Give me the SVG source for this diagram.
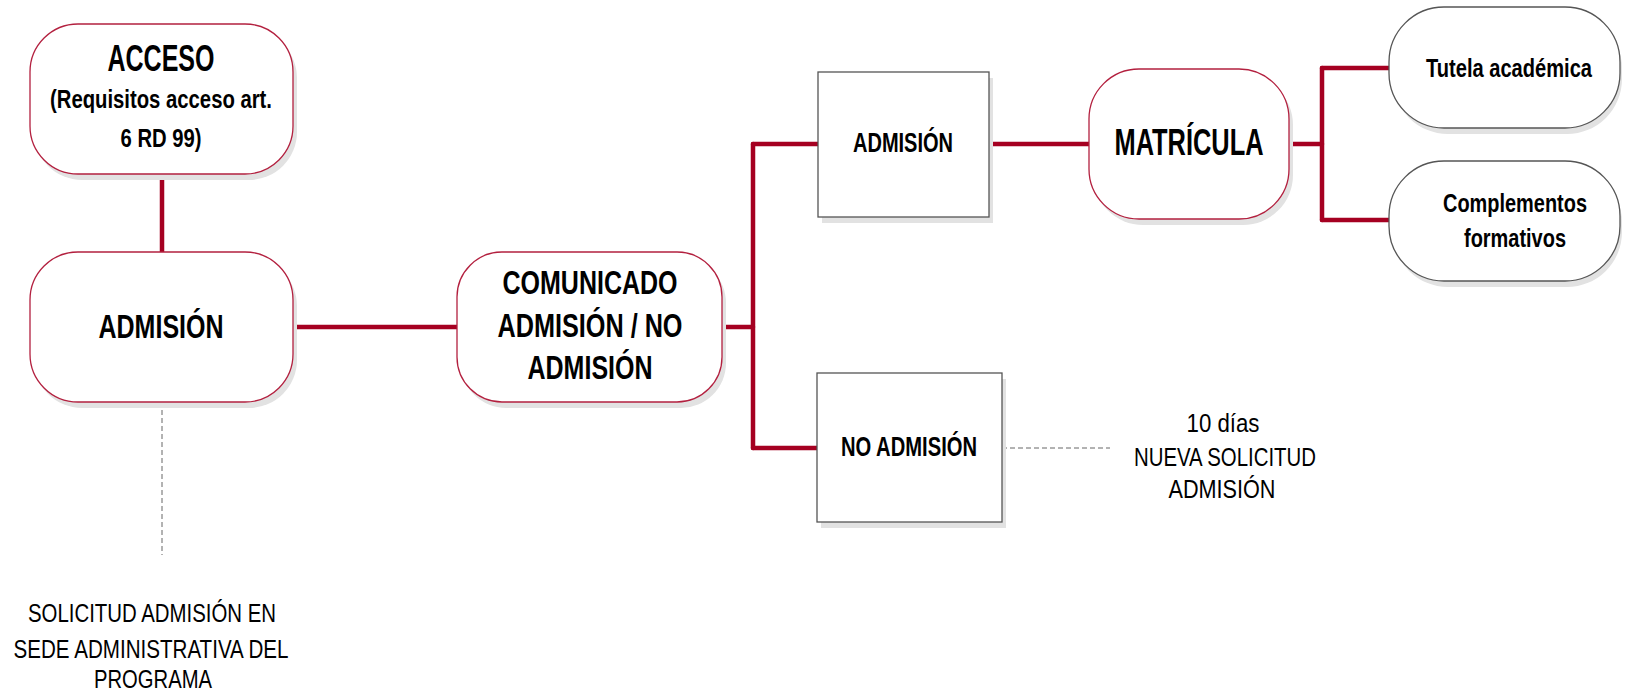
<svg xmlns="http://www.w3.org/2000/svg" width="1625" height="694" viewBox="0 0 1625 694">
<style>
.rnode{fill:#fff;stroke:#b3203f;stroke-width:1.3}
.gnode{fill:#fff;stroke:#555;stroke-width:1.3}
.shadow{fill:#e2e2e2;stroke:none}
.conn{stroke:#a50021;stroke-width:4.5;fill:none;stroke-linecap:round}
.dash{stroke:#666;stroke-width:1;stroke-dasharray:5,3;fill:none}
.b{font-family:"Liberation Sans Narrow","Liberation Sans",Arial,sans-serif;font-weight:bold;fill:#000;text-anchor:middle}
.r{font-family:"Liberation Sans Narrow","Liberation Sans",Arial,sans-serif;fill:#000;text-anchor:middle}
</style>
<rect width="1625" height="694" fill="#fff"/>
<g id="connectors">
<line class="conn" x1="162" y1="174" x2="162" y2="252"/>
<line class="conn" x1="293" y1="327" x2="457" y2="327"/>
<line class="conn" x1="722" y1="327" x2="753" y2="327"/>
<line class="conn" x1="753" y1="144" x2="753" y2="448"/>
<line class="conn" x1="753" y1="144" x2="818" y2="144"/>
<line class="conn" x1="753" y1="448" x2="817" y2="448"/>
<line class="conn" x1="989" y1="144" x2="1089" y2="144"/>
<line class="conn" x1="1289" y1="144" x2="1322" y2="144"/>
<line class="conn" x1="1322" y1="68" x2="1322" y2="220"/>
<line class="conn" x1="1322" y1="68" x2="1389" y2="68"/>
<line class="conn" x1="1322" y1="220" x2="1389" y2="220"/>
<line class="dash" x1="162" y1="402" x2="162" y2="555"/>
<line class="dash" x1="1002" y1="448" x2="1110" y2="448"/>
</g>
<g id="acceso">
<rect class="shadow" x="34" y="30" width="263" height="150" rx="48"/>
<rect class="rnode" x="30" y="24" width="263" height="150" rx="48"/>
<text class="b" x="161" y="71" font-size="36" textLength="107" lengthAdjust="spacingAndGlyphs">ACCESO</text>
<text class="b" x="161" y="108" font-size="25" textLength="222" lengthAdjust="spacingAndGlyphs">(Requisitos acceso art.</text>
<text class="b" x="161" y="147" font-size="25" textLength="81" lengthAdjust="spacingAndGlyphs">6 RD 99)</text>
</g>
<g id="admision1">
<rect class="shadow" x="34" y="258" width="263" height="150" rx="48"/>
<rect class="rnode" x="30" y="252" width="263" height="150" rx="48"/>
<text class="b" x="161" y="338" font-size="34" textLength="125" lengthAdjust="spacingAndGlyphs">ADMISIÓN</text>
</g>
<g id="comunicado">
<rect class="shadow" x="461" y="258" width="265" height="150" rx="45"/>
<rect class="rnode" x="457" y="252" width="265" height="150" rx="45"/>
<text class="b" x="590" y="294" font-size="34" textLength="175" lengthAdjust="spacingAndGlyphs">COMUNICADO</text>
<text class="b" x="590" y="337" font-size="34" textLength="185" lengthAdjust="spacingAndGlyphs">ADMISIÓN / NO</text>
<text class="b" x="590" y="379" font-size="34" textLength="125" lengthAdjust="spacingAndGlyphs">ADMISIÓN</text>
</g>
<g id="admision2">
<rect class="shadow" x="822" y="78" width="171" height="145"/>
<rect class="gnode" x="818" y="72" width="171" height="145"/>
<text class="b" x="903" y="152" font-size="27" textLength="100" lengthAdjust="spacingAndGlyphs">ADMISIÓN</text>
</g>
<g id="noadmision">
<rect class="shadow" x="821" y="379" width="185" height="149"/>
<rect class="gnode" x="817" y="373" width="185" height="149"/>
<text class="b" x="909" y="456" font-size="27" textLength="136" lengthAdjust="spacingAndGlyphs">NO ADMISIÓN</text>
</g>
<g id="matricula">
<rect class="shadow" x="1093" y="75" width="200" height="150" rx="50"/>
<rect class="rnode" x="1089" y="69" width="200" height="150" rx="50"/>
<text class="b" x="1189" y="155" font-size="37" textLength="149" lengthAdjust="spacingAndGlyphs">MATRÍCULA</text>
</g>
<g id="tutela">
<rect class="shadow" x="1393" y="13" width="229" height="121" rx="55"/>
<rect class="gnode" x="1389" y="7" width="231" height="121" rx="55"/>
<text class="b" x="1509" y="77" font-size="26" textLength="166" lengthAdjust="spacingAndGlyphs">Tutela académica</text>
</g>
<g id="complementos">
<rect class="shadow" x="1393" y="167" width="229" height="120" rx="55"/>
<rect class="gnode" x="1389" y="161" width="231" height="120" rx="55"/>
<text class="b" x="1515" y="212" font-size="26" textLength="144" lengthAdjust="spacingAndGlyphs">Complementos</text>
<text class="b" x="1515" y="247" font-size="26" textLength="102" lengthAdjust="spacingAndGlyphs">formativos</text>
</g>
<g id="nota-nueva">
<text class="r" x="1223" y="432" font-size="25" textLength="73" lengthAdjust="spacingAndGlyphs">10 días</text>
<text class="r" x="1225" y="466" font-size="25" textLength="182" lengthAdjust="spacingAndGlyphs">NUEVA SOLICITUD</text>
<text class="r" x="1222" y="498" font-size="25" textLength="107" lengthAdjust="spacingAndGlyphs">ADMISIÓN</text>
</g>
<g id="nota-solicitud">
<text class="r" x="152" y="622" font-size="25" textLength="248" lengthAdjust="spacingAndGlyphs">SOLICITUD ADMISIÓN EN</text>
<text class="r" x="151" y="658" font-size="25" textLength="275" lengthAdjust="spacingAndGlyphs">SEDE ADMINISTRATIVA DEL</text>
<text class="r" x="153" y="688" font-size="25" textLength="118" lengthAdjust="spacingAndGlyphs">PROGRAMA</text>
</g>
</svg>
